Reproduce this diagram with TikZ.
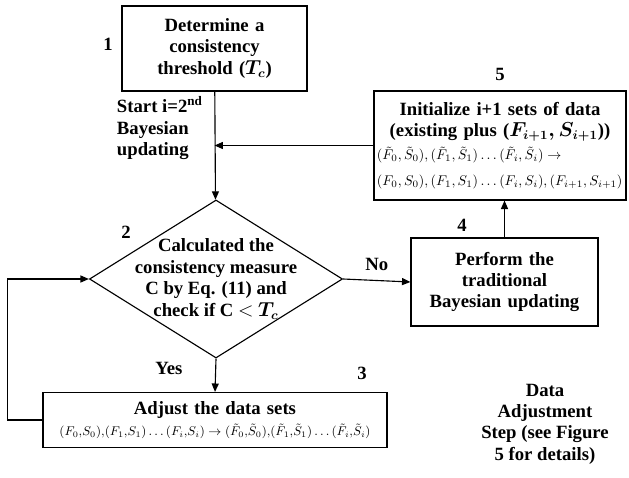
\documentclass[tikz,border=0pt]{standalone}
\usepackage{amsmath}
\usepackage{fontspec}
\setmainfont{Liberation Serif}
\usetikzlibrary{shapes,arrows,positioning,calc,arrows.meta}
\tikzstyle{block} = [rectangle, draw, line width=0.8pt, align=center, inner sep=2pt]
\tikzstyle{decision} = [diamond, draw, line width=0.8pt, minimum width=6.325cm, minimum height=3.95cm, aspect=1.6, inner sep=0pt]
\tikzstyle{arrow} = [-{Triangle[length=6pt,width=5pt]}, line width=0.8pt]
\tikzstyle{stepno} = [font=\bfseries\fontsize{13.3}{15}\selectfont]
\newcommand{\eqsize}{\mdseries\fontsize{10}{12}\selectfont}
\newcommand{\eqsmall}{\mdseries\fontsize{9}{11}\selectfont}

\begin{document}
\begin{tikzpicture}[x=0.025cm, y=-0.025cm]
    \useasboundingbox (0,0) rectangle (629,478);
    \tikzset{every node/.style={font=\bfseries\fontsize{13.3}{15.2}\selectfont}}
    % Boxes
    \node[block, minimum width=4.625cm, minimum height=2.125cm, text width=4.3cm] (thr) at (214.5,48.5) {Determine a\\ consistency\\ threshold ($\boldsymbol{T_c}$)};
    \node[decision] (dec) at (216,279) {};
    \node[align=center] (dectext) at (dec.center) {Calculated the\\ consistency measure\\ C by Eq. (11) and\\ check if C $<$ $\boldsymbol{T_c}$};
    \node[block, minimum width=6.3cm, minimum height=2.725cm, text width=6.15cm] (init) at (500,145.5) {Initialize i+1 sets of data\\ (existing plus ($\boldsymbol{F_{i+1},S_{i+1}}$))\\[1pt]
        \makebox[\linewidth][l]{\eqsize$(\tilde F_0,\tilde S_0),(\tilde F_1,\tilde S_1)\ldots(\tilde F_i,\tilde S_i)\rightarrow$}\\[3pt]
        \makebox[\linewidth][l]{\eqsize$(F_0,S_0),(F_1,S_1)\ldots(F_i,S_i),(F_{i+1},S_{i+1})$}};
    \node[block, minimum width=4.675cm, minimum height=2.2cm, text width=4.4cm] (trad) at (504.5,282) {Perform the\\ traditional\\ Bayesian updating};
    \node[block, minimum width=8.6cm, minimum height=1.375cm, text width=8.4cm] (adj) at (215,420) {Adjust the data sets\\[0pt]
        \mbox{\eqsmall$(F_0{,}S_0){,}(F_1{,}S_1)\ldots(F_i{,}S_i)\rightarrow(\tilde F_0{,}\tilde S_0){,}(\tilde F_1{,}\tilde S_1)\ldots(\tilde F_i{,}\tilde S_i)$}};

    % Step numbers
    \node[stepno] (n1) at (108,44) {1};
    \node[stepno] (n2) at (126,232) {2};
    \node[stepno] (n3) at (362,373) {3};
    \node[stepno] (n4) at (462,225) {4};
    \node[stepno] (n5) at (500,74) {5};

    % Side notes
    \node[align=left, anchor=west] (start) at (112,128) {Start i=2\textsuperscript{nd}\\ Bayesian\\ updating};
    \node[align=center] (note) at (545,424) {Data\\ Adjustment\\ Step (see Figure\\ 5 for details)};

    % Connectors
    \coordinate (merge) at (thr.south |- init.west);
    \draw[arrow] (thr) -- (dec);
    \draw[arrow] (init.west) -- (merge);
    \draw[arrow] (dec.east) -- node[above=3pt] (no) {No} (trad.west);
    \draw[arrow] (dec.south) -- node[left=20pt, pos=0.3] (yes) {Yes} (adj.north);
    \draw[arrow] (trad.north) -- (trad.north |- init.south);
    \draw[arrow] (adj.west) -- ++(-35,0) |- (dec.west);
\end{tikzpicture}
\end{document}
